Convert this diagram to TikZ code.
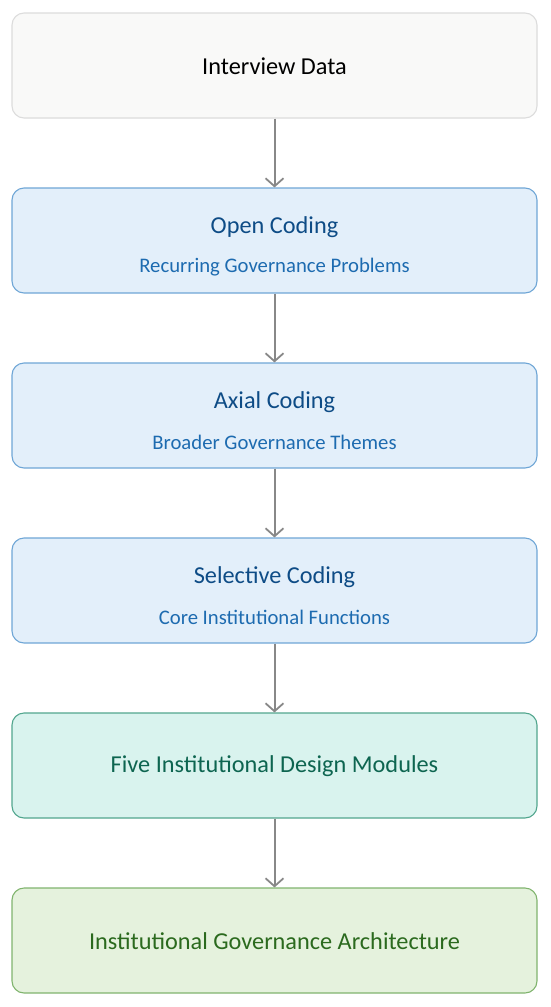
\documentclass[tikz,border=0pt]{standalone}
\usepackage{fontspec}
\setmainfont{Carlito}
\usetikzlibrary{arrows.meta}
\definecolor{grayfill}{HTML}{F9F9F8}
\definecolor{grayline}{HTML}{DCDCDC}
\definecolor{bluefill}{HTML}{E3EFFA}
\definecolor{blueline}{HTML}{6FA6D6}
\definecolor{bluetitle}{HTML}{0E4C86}
\definecolor{bluesub}{HTML}{1D6BB0}
\definecolor{tealfill}{HTML}{D9F3EE}
\definecolor{tealline}{HTML}{52A68E}
\definecolor{tealtext}{HTML}{0D6550}
\definecolor{greenfill}{HTML}{E5F2DD}
\definecolor{greenline}{HTML}{80B46E}
\definecolor{greentext}{HTML}{2B6A1E}
\definecolor{arrowgray}{HTML}{888888}
\tikzset{
  x=1pt, y=1pt,
  stagebox/.style={rounded corners=12pt, line width=1.1pt, minimum width=525pt, minimum height=105pt, inner sep=0pt},
  graybox/.style={stagebox, fill=grayfill, draw=grayline},
  bluebox/.style={stagebox, fill=bluefill, draw=blueline},
  tealbox/.style={stagebox, fill=tealfill, draw=tealline},
  greenbox/.style={stagebox, fill=greenfill, draw=greenline},
  flow/.style={draw=arrowgray, line width=2pt, -{Straight Barb[length=8pt,width=18pt,line width=1.8pt]}},
  ttl/.style={font=\fontsize{24.3}{28}\selectfont},
  sub/.style={font=\fontsize{20.7}{24}\selectfont}
}
\begin{document}
\begin{tikzpicture}
\useasboundingbox (0,0) rectangle (550,-1007);
\node[graybox] (b1) at (274.5,-65.5) {};
\node[bluebox] (b2) at (274.5,-240.5) {};
\node[bluebox] (b3) at (274.5,-415.5) {};
\node[bluebox] (b4) at (274.5,-590.5) {};
\node[tealbox] (b5) at (274.5,-765.5) {};
\node[greenbox] (b6) at (274.5,-940.5) {};
\node[ttl, text=black] (t1) at (274.5,-66) {Interview Data};
\node[ttl, text=bluetitle] (t2) at (274.5,-227) {Open Coding};
\node[sub, text=bluesub] (s2) at (274.5,-267) {Recurring Governance Problems};
\node[ttl, text=bluetitle] (t3) at (274.5,-402) {Axial Coding};
\node[sub, text=bluesub] (s3) at (274.5,-442) {Broader Governance Themes};
\node[ttl, text=bluetitle] (t4) at (274.5,-577) {Selective Coding};
\node[sub, text=bluesub] (s4) at (274.5,-617) {Core Institutional Functions};
\node[ttl, text=tealtext] (t5) at (274.5,-766) {Five Institutional Design Modules};
\node[ttl, text=greentext] (t6) at (274.5,-941) {Institutional Governance Architecture};
\draw[flow] (b1.south) -- (b2.north);
\draw[flow] (b2.south) -- (b3.north);
\draw[flow] (b3.south) -- (b4.north);
\draw[flow] (b4.south) -- (b5.north);
\draw[flow] (b5.south) -- (b6.north);
\end{tikzpicture}
\end{document}
